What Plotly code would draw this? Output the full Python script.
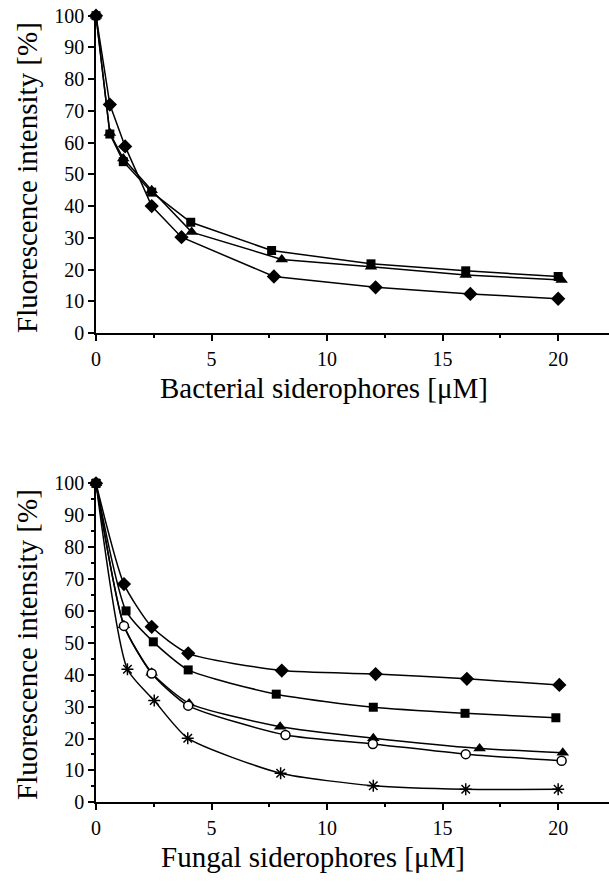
import plotly.graph_objects as go

# ---- data: top panel (bacterial siderophores) ----
bac_diamond_x = [0, 0.6, 1.26, 2.41, 3.7, 7.7, 12.1, 16.2, 20.0]
bac_diamond_y = [100, 72, 58.8, 40, 30.2, 17.8, 14.4, 12.3, 10.8]
bac_square_x = [0, 0.6, 1.18, 2.41, 4.1, 7.6, 11.9, 16.0, 20.0]
bac_square_y = [100, 62.7, 54, 44.4, 34.9, 26, 21.8, 19.6, 17.8]
bac_triangle_x = [0, 0.6, 1.18, 2.41, 4.14, 8.04, 11.9, 16.0, 20.15]
bac_triangle_y = [100, 63, 55, 45, 31.8, 23.2, 20.9, 18.3, 16.7]

# ---- data: bottom panel (fungal siderophores) ----
fun_diamond_x = [0, 1.21, 2.41, 3.99, 8.04, 12.1, 16.05, 20.05]
fun_diamond_y = [100, 68.4, 55, 46.7, 41.3, 40.2, 38.7, 36.8]
fun_square_x = [0, 1.3, 2.48, 3.99, 7.8, 12.0, 15.97, 19.9]
fun_square_y = [100, 60, 50.3, 41.5, 33.9, 29.8, 27.9, 26.5]
fun_triangle_x = [0, 1.21, 2.41, 4.03, 7.97, 12.0, 16.6, 20.2]
fun_triangle_y = [100, 55.5, 40.6, 31.0, 23.7, 20.1, 16.9, 15.5]
fun_circle_x = [0, 1.21, 2.41, 3.99, 8.2, 11.98, 16.0, 20.15]
fun_circle_y = [100, 55.3, 40.4, 30.3, 21.1, 18.3, 15.1, 13.0]
fun_star_x = [0, 1.36, 2.52, 3.97, 7.99, 12.0, 16.0, 20.0]
fun_star_y = [100, 41.7, 31.9, 20.1, 9.1, 5.2, 4.1, 4.1]

x_ticks = [0, 5, 10, 15, 20]
y_ticks = [0, 10, 20, 30, 40, 50, 60, 70, 80, 90, 100]

FONT = "Liberation Serif, Times New Roman, serif"
W, H = 609, 886

fig = go.Figure()

def add(x, y, symbol, size, xa, ya, shape="linear", fill="black", lw=0):
    fig.add_trace(go.Scatter(
        x=x, y=y, mode="lines+markers", xaxis=xa, yaxis=ya,
        line=dict(color="black", width=1.5, shape=shape, smoothing=0.6),
        marker=dict(symbol=symbol, size=size, color=fill,
                    line=dict(color="black", width=lw)),
        cliponaxis=False, showlegend=False))

# top
add(bac_triangle_x, bac_triangle_y, "triangle-up", 11, "x", "y")
add(bac_square_x, bac_square_y, "square", 9, "x", "y")
add(bac_diamond_x, bac_diamond_y, "diamond", 11, "x", "y")
# bottom
add(fun_star_x, fun_star_y, "asterisk-open", 10, "x2", "y2", "spline", lw=1.5)
add(fun_triangle_x, fun_triangle_y, "triangle-up", 11, "x2", "y2", "spline")
add(fun_circle_x, fun_circle_y, "circle", 9, "x2", "y2", "spline", fill="white", lw=1.5)
add(fun_square_x, fun_square_y, "square", 9, "x2", "y2", "spline")
add(fun_diamond_x, fun_diamond_y, "diamond", 11, "x2", "y2", "spline")

def ydom(top_px, bot_px):
    return [1 - bot_px / H, 1 - top_px / H]

xcommon = dict(range=[0, 22.2], tickvals=x_ticks, ticks="outside", ticklen=6,
               tickwidth=1.5, tickcolor="black", showline=True, linecolor="black",
               linewidth=1.5, showgrid=False, zeroline=False, automargin=False,
               ticklabelstandoff=1,
               tickfont=dict(family=FONT, size=20, color="black"),
               minor=dict(dtick=2.5, ticks="outside", ticklen=3, tickwidth=1.5,
                          tickcolor="black", showgrid=False))
ycommon = dict(range=[0, 100], tickvals=y_ticks, ticks="outside", ticklen=6,
               tickwidth=1.5, tickcolor="black", showline=True, linecolor="black",
               linewidth=1.5, showgrid=False, zeroline=False, automargin=False,
               tickfont=dict(family=FONT, size=20, color="black"))

fig.update_layout(
    template="none",
    width=W, height=H, margin=dict(l=96, r=0, t=0, b=0, autoexpand=False),
    paper_bgcolor="white", plot_bgcolor="white",
    xaxis=dict(domain=[0, 1], anchor="y", **xcommon),
    yaxis=dict(domain=ydom(15.7, 333), anchor="x", **ycommon),
    xaxis2=dict(domain=[0, 1], anchor="y2", **xcommon),
    yaxis2=dict(domain=ydom(483.3, 802.3), anchor="x2",
                minor=dict(dtick=5, ticks="outside", ticklen=3, tickwidth=1.5,
                           tickcolor="black", showgrid=False),
                **ycommon),
)

def px_x(px):
    return (px - 96) / (W - 96)

def px_y(py):
    return 1 - py / H

ann = [
    ("Fluorescence intensity [%]", 27, 178, -90),
    ("Fluorescence intensity [%]", 27, 645, -90),
    ("Bacterial siderophores [μM]", 324, 388, 0),
    ("Fungal siderophores [μM]", 313, 857, 0),
]
for text, ax, ay, ang in ann:
    fig.add_annotation(text=text, xref="paper", yref="paper", x=px_x(ax), y=px_y(ay),
                       xanchor="center", yanchor="middle", showarrow=False,
                       textangle=ang, font=dict(family=FONT, size=29, color="black"))

fig.write_html("out.html", config={"displayModeBar": False},
               post_script="document.body.style.margin='0px';document.body.style.overflow='hidden';")
